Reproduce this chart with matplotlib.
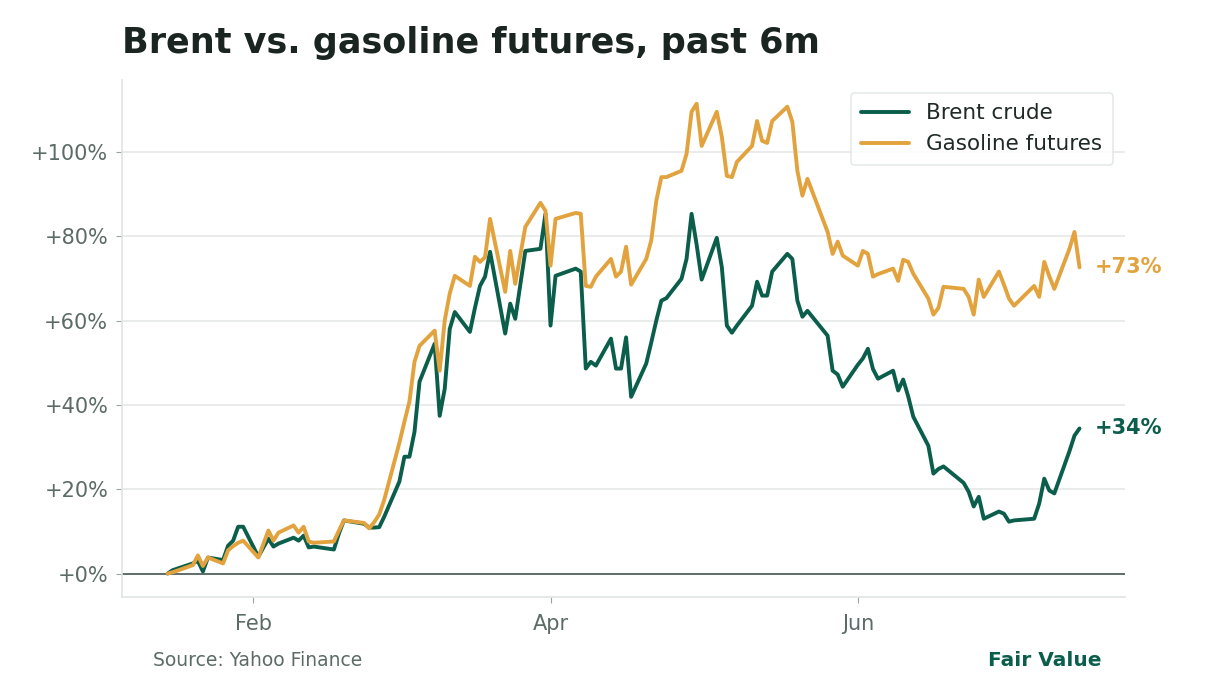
import pandas as pd
import matplotlib.pyplot as plt
import matplotlib.dates as mdates
from matplotlib.ticker import FuncFormatter

#### Data (percent change since Jan 15) ####
dates = ["2026-01-15", "2026-01-16", "2026-01-20", "2026-01-21", "2026-01-22", "2026-01-23",
         "2026-01-26", "2026-01-27", "2026-01-28", "2026-01-29", "2026-01-30",
         "2026-02-02", "2026-02-04", "2026-02-05", "2026-02-06",
         "2026-02-09", "2026-02-10", "2026-02-11", "2026-02-12", "2026-02-13",
         "2026-02-17", "2026-02-18", "2026-02-19",
         "2026-02-23", "2026-02-24", "2026-02-25", "2026-02-26", "2026-02-27",
         "2026-03-02", "2026-03-03", "2026-03-04", "2026-03-05", "2026-03-06",
         "2026-03-09", "2026-03-10", "2026-03-11", "2026-03-12", "2026-03-13",
         "2026-03-16", "2026-03-17", "2026-03-18", "2026-03-19", "2026-03-20",
         "2026-03-23", "2026-03-24", "2026-03-25", "2026-03-27",
         "2026-03-30", "2026-03-31", "2026-04-01", "2026-04-02",
         "2026-04-06", "2026-04-07", "2026-04-08", "2026-04-09", "2026-04-10",
         "2026-04-13", "2026-04-14", "2026-04-15", "2026-04-16", "2026-04-17",
         "2026-04-20", "2026-04-21", "2026-04-22", "2026-04-23", "2026-04-24",
         "2026-04-27", "2026-04-28", "2026-04-29", "2026-04-30", "2026-05-01",
         "2026-05-04", "2026-05-05", "2026-05-06", "2026-05-07", "2026-05-08",
         "2026-05-11", "2026-05-12", "2026-05-13", "2026-05-14", "2026-05-15",
         "2026-05-18", "2026-05-19", "2026-05-20", "2026-05-21", "2026-05-22",
         "2026-05-26", "2026-05-27", "2026-05-28", "2026-05-29",
         "2026-06-01", "2026-06-02", "2026-06-03", "2026-06-04", "2026-06-05",
         "2026-06-08", "2026-06-09", "2026-06-10", "2026-06-11", "2026-06-12",
         "2026-06-15", "2026-06-16", "2026-06-17", "2026-06-18",
         "2026-06-22", "2026-06-23", "2026-06-24", "2026-06-25", "2026-06-26",
         "2026-06-29", "2026-06-30", "2026-07-01", "2026-07-02",
         "2026-07-06", "2026-07-07", "2026-07-08", "2026-07-09", "2026-07-10",
         "2026-07-13", "2026-07-14", "2026-07-15"]

brent = [0.0, 0.8, 2.4, 3.0, 0.5, 3.8,
         3.2, 6.6, 7.8, 11.1, 11.1,
         4.0, 8.3, 6.4, 7.1,
         8.5, 7.8, 9.0, 6.2, 6.4,
         5.7, 9.5, 12.6,
         11.8, 10.9, 10.9, 11.0, 13.5,
         21.8, 27.7, 27.7, 33.6, 45.5,
         54.5, 37.4, 43.8, 58.0, 62.0,
         57.3, 63.0, 68.2, 70.4, 76.3,
         56.9, 64.0, 60.4, 76.5,
         77.0, 85.3, 58.8, 70.6,
         72.3, 71.6, 48.6, 50.2, 49.3,
         55.7, 48.6, 48.6, 56.0, 41.9,
         49.8, 54.8, 60.0, 64.7, 65.3,
         69.9, 74.6, 85.3, 78.0, 69.7,
         79.6, 72.7, 58.8, 57.1, 58.8,
         63.5, 69.2, 65.9, 65.9, 71.6,
         75.8, 74.6, 64.7, 60.9, 62.3,
         56.4, 48.1, 47.2, 44.3,
         49.5, 51.0, 53.3, 48.5, 46.2,
         48.1, 43.4, 46.0, 42.0, 37.2,
         30.3, 23.7, 24.8, 25.4,
         21.5, 19.4, 15.9, 18.2, 13.0,
         14.7, 14.2, 12.3, 12.6,
         13.0, 16.6, 22.5, 19.7, 19.0,
         29.0, 32.7, 34.4]

gasoline = [0.0, 0.3, 2.0, 4.3, 1.8, 3.8,
            2.4, 5.5, 6.5, 7.3, 7.8,
            3.8, 10.2, 7.8, 9.7,
            11.4, 9.7, 11.1, 7.6, 7.3,
            7.6, 10.2, 12.6,
            12.0, 10.7, 12.2, 14.0, 17.5,
            31.0, 36.0, 40.8, 50.2, 54.0,
            57.6, 48.1, 60.0, 66.4, 70.6,
            68.2, 75.1, 73.9, 75.0, 84.1,
            66.8, 76.5, 68.7, 82.2,
            87.9, 86.0, 73.0, 84.1,
            85.5, 85.3, 68.2, 68.0, 70.4,
            74.6, 70.4, 71.6, 77.5, 68.5,
            74.6, 79.0, 88.4, 94.0, 94.0,
            95.5, 99.5, 109.5, 111.4, 101.4,
            109.5, 103.6, 94.3, 94.0, 97.6,
            101.4, 107.3, 102.6, 102.1, 107.3,
            110.7, 107.1, 95.5, 89.6, 93.6,
            81.0, 75.8, 78.7, 75.4,
            73.0, 76.5, 75.8, 70.4, 71.0,
            72.3, 69.4, 74.4, 73.9, 71.1,
            65.2, 61.4, 63.0, 68.0,
            67.5, 65.6, 61.4, 69.7, 65.6,
            71.6, 68.5, 65.2, 63.5,
            68.2, 65.6, 73.9, 70.5, 67.5,
            77.0, 81.0, 72.6]

x = pd.to_datetime(dates)

green = "#0b5e4b"
gold = "#e2a33e"
grey_txt = "#5c6b67"

fig = plt.figure(figsize=(12.24, 6.8), dpi=100)
ax = fig.add_axes([0.0997, 0.122, 0.8195, 0.760])

ax.plot(x, brent, color=green, lw=2.8, label="Brent crude", solid_capstyle="round")
ax.plot(x, gasoline, color=gold, lw=2.8, label="Gasoline futures", solid_capstyle="round")
ax.axhline(0, color="#5f6e6a", lw=1.4, zorder=1)

ax.grid(axis="y", color="#e3e7e6", lw=1.1)
ax.set_axisbelow(True)
for s in ["top", "right"]:
    ax.spines[s].set_visible(False)
for s in ["left", "bottom"]:
    ax.spines[s].set_color("#dfe4e2")
    ax.spines[s].set_linewidth(1.2)

ax.set_yticks([0, 20, 40, 60, 80, 100])
ax.yaxis.set_major_formatter(FuncFormatter(lambda v, p: "+%d%%" % v))
ax.xaxis.set_major_locator(mdates.MonthLocator(bymonth=[2, 4, 6]))
ax.xaxis.set_major_formatter(mdates.DateFormatter("%b"))
ax.tick_params(axis="both", colors="#9aa5a2", labelcolor=grey_txt, labelsize=15, length=4)
ax.tick_params(axis="y", pad=6)
ax.tick_params(axis="x", pad=8)

leg = ax.legend(loc="upper right", fontsize=15.5, frameon=True, fancybox=True,
                handlelength=2.2, borderpad=0.5, bbox_to_anchor=(0.9985, 0.997))
leg.get_frame().set_edgecolor("#dfe4e2")
leg.get_frame().set_linewidth(1.2)
for t in leg.get_texts():
    t.set_color("#1f2a27")

# end labels
ax.annotate("+%d%%" % round(gasoline[-1]), (x[-1], gasoline[-1]), xytext=(11, 0),
            textcoords="offset points", color=gold, fontsize=15, fontweight="bold", va="center")
ax.annotate("+%d%%" % round(brent[-1]), (x[-1], brent[-1]), xytext=(11, 0),
            textcoords="offset points", color=green, fontsize=15, fontweight="bold", va="center")

fig.text(0.0997, 0.912, "Brent vs. gasoline futures, past 6m", fontsize=25.2, fontweight="bold",
         color="#1a2421", ha="left", va="bottom")
fig.text(0.125, 0.029, "Source: Yahoo Finance", fontsize=13.5, color=grey_txt, ha="left", va="center")
fig.text(0.9, 0.029, "Fair Value", fontsize=14.5, color=green, fontweight="bold", ha="right", va="center")

fig.savefig("out.png", dpi=100)
